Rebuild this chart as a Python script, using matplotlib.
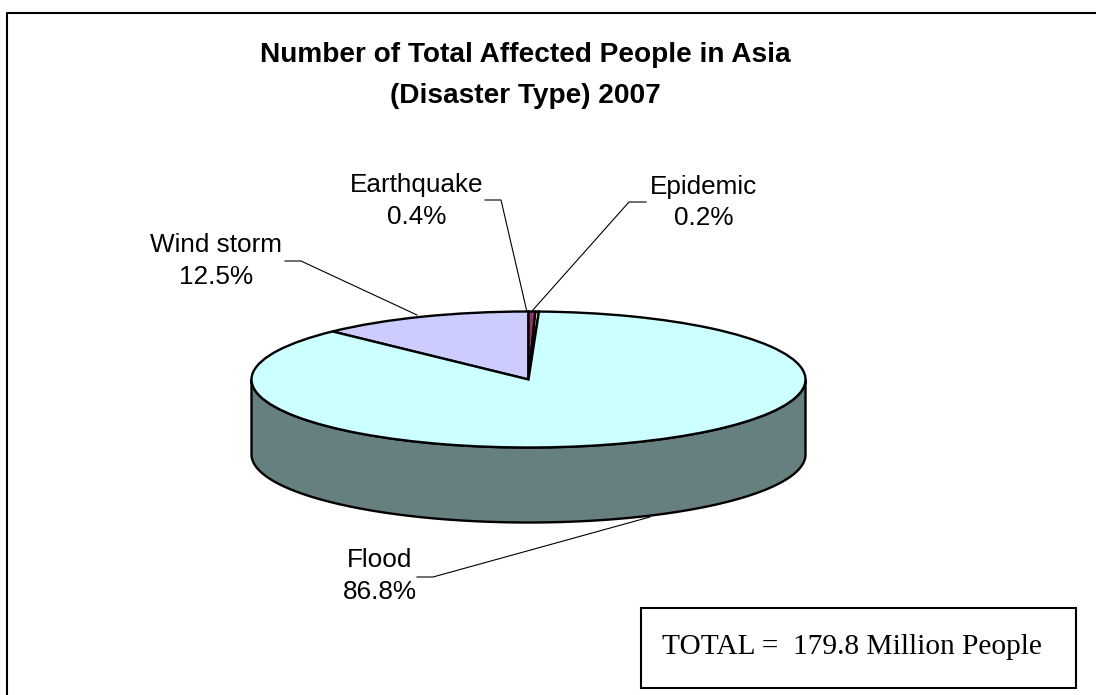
import numpy as np
import matplotlib
matplotlib.use("Agg")
import matplotlib.pyplot as plt
from matplotlib.patches import Rectangle, Polygon

# Share of total affected people by disaster type (percent)
categories = ["Wind storm", "Earthquake", "Epidemic", "Flood"]
shares = [12.5, 0.4, 0.2, 86.8]
colors = ["#CCCCFF", "#993366", "#FFFFCC", "#CCFFFF"]
title_lines = ["Number of Total Affected People in Asia", "(Disaster Type) 2007"]
total_note = "TOTAL =  179.8 Million People"

W, H = 1096, 695
CX, CY, RX, RY, DEPTH = 528.5, 379.5, 277.0, 68.0, 75.0
SIDE_COLOR = "#667F7F"

plt.rcParams["font.family"] = ["Liberation Sans", "DejaVu Sans"]
fig = plt.figure(figsize=(W / 100, H / 100), dpi=100, facecolor="white")
ax = fig.add_axes([0, 0, 1, 1])

# Pie top face: the wind storm slice ends at twelve o'clock, the rest run clockwise
start = 90 + shares[0] / sum(shares) * 360
wedges, _ = ax.pie(shares, colors=colors, startangle=start, counterclock=False,
                   radius=1, center=(0, 0),
                   wedgeprops=dict(edgecolor="black", linewidth=1.7), normalize=True)
for w in wedges:
    w.set_zorder(3)

# Axis limits give one pie radius = RX pixels across and RY pixels down
ax.set_aspect("auto")
ax.set_xlim(-CX / RX, (W - CX) / RX)
ax.set_ylim(-(H - CY) / RY, CY / RY)
ax.axis("off")


def px(x, y):
    """Pixel position (origin top-left) to data coordinates."""
    return (x - CX) / RX, (CY - y) / RY


# Side wall of the disc, front half only
t = np.linspace(np.pi, 2 * np.pi, 200)
d = DEPTH / RY
upper = np.column_stack([np.cos(t), np.sin(t)])
lower = np.column_stack([np.cos(t), np.sin(t) - d])[::-1]
ax.add_patch(Polygon(np.vstack([upper, lower]), closed=True, facecolor=SIDE_COLOR,
                     edgecolor="black", linewidth=1.7, zorder=2))

# Frame: only its top and left edges fall inside the canvas
frame = np.array([px(6.5, H), px(6.5, 12.5), px(W, 12.5)])
ax.plot(frame[:, 0], frame[:, 1], color="black", linewidth=1.5, zorder=1)

# Box holding the total
ax.add_patch(Rectangle(px(641, 688), 435 / RX, 80 / RY, facecolor="white",
                       edgecolor="black", linewidth=1.5, zorder=4))

# Title
for line, y in zip(title_lines, (55, 96)):
    ax.text(*px(525, y), line, ha="center", va="center", fontsize=20.2, fontweight="bold")

# Slice labels with leader lines
labels = {
    "Wind storm": ((216, 261), [(285, 261), (301, 261), (417, 315)]),
    "Earthquake": ((417, 201), [(485, 200), (501, 200), (527, 312)]),
    "Epidemic": ((704, 202.5), [(646, 202), (629, 202), (532, 311)]),
    "Flood": ((380, 576), [(417, 577), (433, 577), (650, 517)]),
}
for name, share in zip(categories, shares):
    (lx, ly), leader = labels[name]
    ax.text(*px(lx, ly), f"{name}\n{share:.1f}%", ha="center", va="center",
            fontsize=18.8, linespacing=1.42, zorder=5)
    pts = np.array([px(*p) for p in leader])
    ax.plot(pts[:, 0], pts[:, 1], color="black", linewidth=0.8, zorder=5)

ax.text(*px(662, 647), total_note, ha="left", va="center", fontsize=21.2,
        family=["Liberation Serif", "DejaVu Serif"], zorder=5)

fig.savefig("out.png", dpi=100, facecolor="white")
